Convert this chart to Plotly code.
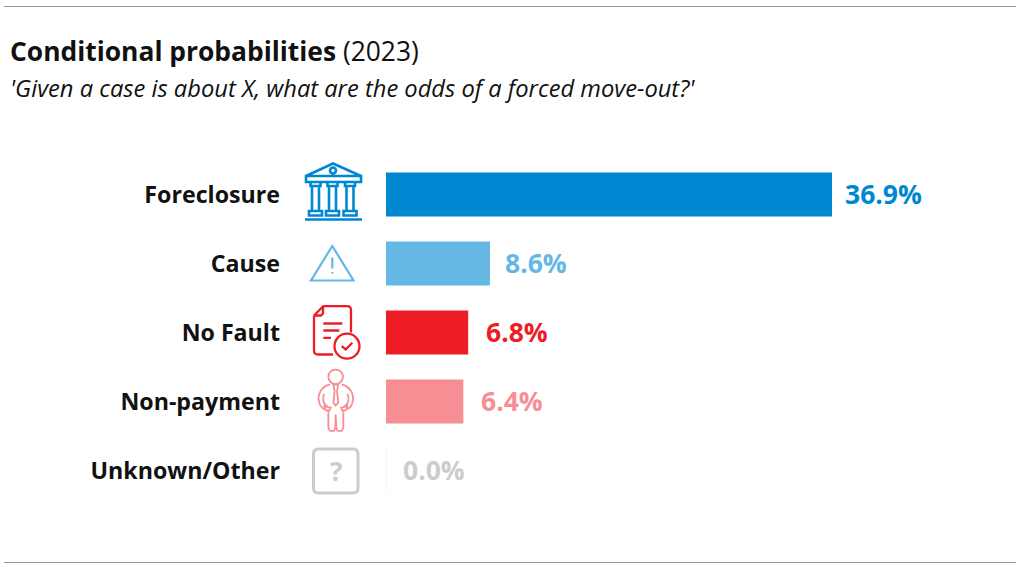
import plotly.graph_objects as go

# Chart data
categories = ["Foreclosure", "Cause", "No Fault", "Non-payment", "Unknown/Other"]
probabilities = [36.9, 8.6, 6.8, 6.4, 0.0]
value_labels = ["36.9%", "8.6%", "6.8%", "6.4%", "0.0%"]
bar_colors = ["#0087D2", "#65B7E4", "#EE1C25", "#F78E94", "#CCCCCC"]

W, H = 1020, 571
FONT = "Open Sans"
AXIS_LEFT = 386
PX_PER_UNIT = 12.087
ROW_TOP = 194.5
ROW_STEP = 69.0
ICON_X = 334
LABEL_GAPS = [11, 13, 16, 16, 15]


# Small path helpers: icon coordinates are pixels around the row centre, y down.
def polyline(points, close=False):
    d = "M" + " L".join(f"{x:.2f},{-y:.2f}" for x, y in points)
    return d + (" Z" if close else "")


def circle(cx, cy, r):
    k = 0.5523 * r
    y = -cy
    return (
        f"M{cx - r:.2f},{y:.2f} "
        f"C{cx - r:.2f},{y + k:.2f} {cx - k:.2f},{y + r:.2f} {cx:.2f},{y + r:.2f} "
        f"C{cx + k:.2f},{y + r:.2f} {cx + r:.2f},{y + k:.2f} {cx + r:.2f},{y:.2f} "
        f"C{cx + r:.2f},{y - k:.2f} {cx + k:.2f},{y - r:.2f} {cx:.2f},{y - r:.2f} "
        f"C{cx - k:.2f},{y - r:.2f} {cx - r:.2f},{y - k:.2f} {cx - r:.2f},{y:.2f} Z"
    )


def rect(x0, y0, x1, y1):
    return polyline([(x0, y0), (x1, y0), (x1, y1), (x0, y1)], close=True)


def round_rect(x0, y0, x1, y1, r):
    q0, q1 = -y0, -y1
    return (
        f"M{x0 + r},{q0} L{x1 - r},{q0} Q{x1},{q0} {x1},{q0 - r} "
        f"L{x1},{q1 + r} Q{x1},{q1} {x1 - r},{q1} "
        f"L{x0 + r},{q1} Q{x0},{q1} {x0},{q1 + r} "
        f"L{x0},{q0 - r} Q{x0},{q0} {x0 + r},{q0} Z"
    )


def bank_icon():
    parts = [
        polyline([(-28, -18.5), (-1, -31), (27, -18.5)]),
        rect(-28, -18.5, 27, -12.5),
        circle(-1, -24, 3),
        polyline([(-29, 25), (28, 25)]),
    ]
    for left in (-23.5, -6.5, 11):
        parts += [
            rect(left, -12.5, left + 10, -8.5),
            rect(left + 1.5, -8.5, left + 8.5, 16.5),
            rect(left - 1.5, 16.5, left + 11.5, 21),
        ]
    return " ".join(parts)


def warning_icon():
    return " ".join([
        polyline([(-1.7, -17.5), (19.5, 17), (-23, 17)], close=True),
        polyline([(-1.7, -6), (-1.7, 5)]),
        polyline([(-1.7, 8.5), (-1.7, 10)]),
    ])


def document_icon():
    outline = (
        "M-20,17 L-10.7,26.3 L13,26.3 Q17,26.3 17,22.3 L17,0 "
        "M-1,-22 L-16,-22 Q-20,-22 -20,-18 L-20,17"
    )
    return " ".join([
        outline,
        polyline([(-20, -17), (-13, -17), (-11, -19), (-11, -26)]),
        polyline([(-10.7, -9), (8.3, -9)]),
        polyline([(-10.7, -2), (5.3, -2)]),
        polyline([(-10.7, 5.3), (-3, 5.3)]),
        circle(13, 13.7, 12.5),
        polyline([(7.7, 13.7), (11.7, 17), (18.3, 10.3)]),
    ])


def person_icon():
    def pt(zx, zy):
        return zx / 3 - 44, zy / 3 - 107

    def curve(p0, c0, c1, p1):
        (a, b), (c, d), (e, f), (g, h) = pt(*p0), pt(*c0), pt(*c1), pt(*p1)
        return f"M{a:.2f},{-b:.2f} C{c:.2f},{-d:.2f} {e:.2f},{-f:.2f} {g:.2f},{-h:.2f}"

    parts = [
        circle(*pt(137, 247), 7.3),
        curve((120, 270), (95, 275), (80, 300), (88, 325)),
        curve((88, 325), (90, 335), (98, 342), (105, 345)),
        curve((155, 270), (180, 275), (195, 300), (187, 325)),
        curve((187, 325), (185, 335), (178, 342), (168, 345)),
        curve((103, 298), (95, 312), (100, 330), (115, 338)),
        curve((172, 298), (180, 312), (175, 330), (160, 338)),
        polyline([pt(130, 270), pt(145, 270), pt(141, 290), pt(145, 324), pt(137, 333), pt(130, 324), pt(134, 290)], close=True),
        polyline([pt(103, 335), pt(122, 340), pt(116, 352), pt(105, 345)], close=True),
        polyline([pt(172, 335), pt(153, 340), pt(159, 352), pt(170, 345)], close=True),
        polyline([pt(115, 345), pt(115, 400), pt(120, 409), pt(132, 409), pt(136, 400), pt(137, 360)]),
        polyline([pt(160, 345), pt(160, 400), pt(155, 409), pt(143, 409), pt(139, 400), pt(137, 360)]),
    ]
    return " ".join(parts)


def unknown_icon():
    return round_rect(-20.5, -21.5, 24, 22.5, 5)


icon_paths = [bank_icon(), warning_icon(), document_icon(), person_icon(), unknown_icon()]
icon_widths = [2.6, 2.2, 2.3, 1.8, 3]

fig = go.Figure(
    go.Bar(
        x=probabilities,
        y=categories,
        orientation="h",
        width=44 / ROW_STEP,
        marker=dict(color=bar_colors, line=dict(width=0)),
        hoverinfo="skip",
    )
)

shapes = [
    dict(type="line", xref="paper", yref="paper", x0=4 / W, x1=1016 / W,
         y0=1 - 6.5 / H, y1=1 - 6.5 / H, line=dict(color="#999999", width=1)),
    dict(type="line", xref="paper", yref="paper", x0=4 / W, x1=1016 / W,
         y0=1 - 562.5 / H, y1=1 - 562.5 / H, line=dict(color="#999999", width=1)),
    # Hairline marking the zero-length bar
    dict(type="line", xref="x", yref="y", x0=0, x1=0,
         y0=4 - 22 / ROW_STEP, y1=4 + 22 / ROW_STEP, line=dict(color="#EEEEEE", width=1)),
]
for category, path, color, width in zip(categories, icon_paths, bar_colors, icon_widths):
    shapes.append(dict(
        type="path", path=path, xref="paper", yref="y",
        xsizemode="pixel", ysizemode="pixel",
        xanchor=ICON_X / W, yanchor=category,
        line=dict(color=color, width=width),
    ))

annotations = [
    dict(text="<b>Conditional probabilities</b> (2023)", xref="paper", yref="paper",
         x=8 / W, y=1 - 51 / H, xanchor="left", yanchor="middle", showarrow=False,
         font=dict(family=FONT, size=26.4, color="#111111")),
    dict(text="<i>'Given a case is about X, what are the odds of a forced move-out?'</i>",
         xref="paper", yref="paper", x=8 / W, y=1 - 88 / H, xanchor="left", yanchor="middle",
         showarrow=False, font=dict(family=FONT, size=23.7, color="#111111")),
    dict(text="<b>?</b>", xref="paper", yref="y", x=335.5 / W, y=categories[4],
         xanchor="center", yanchor="middle", showarrow=False,
         font=dict(family=FONT, size=26, color="#CCCCCC")),
]
for category, value, label, color, gap in zip(categories, probabilities, value_labels, bar_colors, LABEL_GAPS):
    annotations.append(dict(
        text=f"<b>{label}</b>", x=value, y=category, xref="x", yref="y",
        xanchor="left", yanchor="middle", xshift=gap, yshift=1, showarrow=False,
        font=dict(family=FONT, size=26.5, color=color),
    ))

fig.update_layout(
    width=W, height=H,
    margin=dict(l=0, r=0, t=0, b=0),
    paper_bgcolor="white", plot_bgcolor="white",
    showlegend=False,
    font=dict(family=FONT),
    xaxis=dict(domain=[AXIS_LEFT / W, 1], range=[0, (W - AXIS_LEFT) / PX_PER_UNIT],
               visible=False, fixedrange=True),
    yaxis=dict(
        type="category", categoryorder="array", categoryarray=categories,
        range=[(H - ROW_TOP) / ROW_STEP, -ROW_TOP / ROW_STEP],
        showgrid=False, zeroline=False, showline=False, ticks="",
        ticklabelstandoff=105, automargin=False, fixedrange=True,
        tickfont=dict(family=FONT, size=23.2, color="#111111"),
        tickmode="array", tickvals=categories,
        ticktext=[f"<b>{c}</b>" for c in categories],
    ),
    shapes=shapes,
    annotations=annotations,
)

fig.write_html("out.html", config=dict(displayModeBar=False))
